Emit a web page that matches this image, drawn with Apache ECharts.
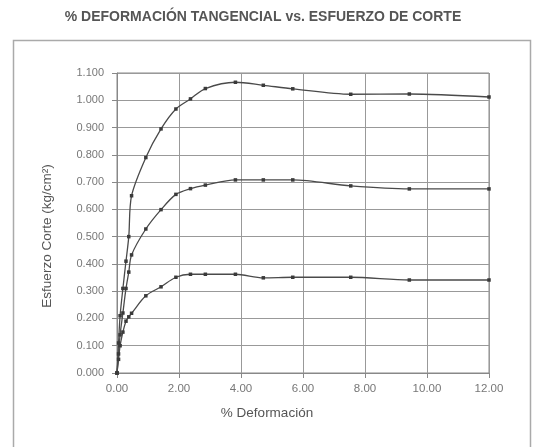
<!DOCTYPE html>
<html>
<head>
<meta charset="utf-8">
<script src="https://cdn.jsdelivr.net/npm/echarts@6/dist/echarts.min.js"></script>
<style>
  html, body { margin: 0; padding: 0; background: #fff; }
  #chart { width: 544px; height: 447px; }
</style>
</head>
<body>
<div id="chart"></div>
<script>
// Shear test: tangential strain (%) vs. shear stress (kg/cm²), three normal loads
const deformacion = [0, 0.05, 0.10, 0.19, 0.29, 0.38, 0.47, 0.93, 1.42, 1.90, 2.37, 2.85, 3.82, 4.72, 5.67, 7.54, 9.43, 12.00];
const esfuerzoAlto = [0, 0.11, 0.21, 0.31, 0.41, 0.50, 0.65, 0.790, 0.895, 0.968, 1.005, 1.043, 1.066, 1.055, 1.042, 1.022, 1.023, 1.012];
const esfuerzoMedio = [0, 0.07, 0.14, 0.22, 0.31, 0.37, 0.433, 0.528, 0.599, 0.655, 0.676, 0.689, 0.708, 0.708, 0.708, 0.686, 0.675, 0.675];
const esfuerzoBajo = [0, 0.05, 0.10, 0.15, 0.19, 0.206, 0.219, 0.283, 0.316, 0.351, 0.362, 0.362, 0.362, 0.349, 0.351, 0.351, 0.341, 0.341];
const ticksY = ['0.000','0.100','0.200','0.300','0.400','0.500','0.600','0.700','0.800','0.900','1.000','1.100'];
const ticksX = ['0.00','2.00','4.00','6.00','8.00','10.00','12.00'];

const titulo = '% DEFORMACIÓN TANGENCIAL vs. ESFUERZO DE CORTE';
const nombreX = '% Deformación';
const nombreY = 'Esfuerzo Corte (kg/cm²)';

const fuente = 'Liberation Sans, Arial, sans-serif';
const pares = ys => deformacion.map((x, i) => [x, ys[i]]);

const serie = (name, ys) => ({
  name,
  type: 'line',
  data: pares(ys),
  smooth: 0.3,
  symbol: 'rect',
  symbolSize: 3.5,
  lineStyle: { color: '#4a4a4a', width: 1.3 },
  itemStyle: { color: '#3a3a3a' }
});

const chart = echarts.init(document.getElementById('chart'), null, { renderer: 'canvas' });
chart.setOption({
  backgroundColor: '#fff',
  animation: false,
  graphic: [
    {
      type: 'rect',
      shape: { x: 13.5, y: 40.5, width: 517, height: 420 },
      style: { fill: 'none', stroke: '#aaa', lineWidth: 1.5 },
      silent: true
    },
    {
      type: 'text',
      x: 263, y: 17,
      style: { text: titulo, font: 'bold 14px ' + fuente, fill: '#555', align: 'center', verticalAlign: 'middle' },
      silent: true
    },
    {
      type: 'text',
      x: 267, y: 413,
      style: { text: nombreX, font: '13.5px ' + fuente, fill: '#555', align: 'center', verticalAlign: 'middle' },
      silent: true
    },
    {
      type: 'text',
      x: 47.5, y: 236,
      rotation: Math.PI / 2,
      style: { text: nombreY, font: '13.5px ' + fuente, fill: '#555', align: 'center', verticalAlign: 'middle' },
      silent: true
    }
  ],
  grid: { left: 117, top: 73, right: 55, bottom: 74, show: true, borderColor: '#888', borderWidth: 1 },
  xAxis: {
    type: 'value',
    min: 0, max: 12, interval: 2,
    axisLine: { show: true, lineStyle: { color: '#888' } },
    axisTick: { show: true, inside: false, length: 5, lineStyle: { color: '#888' } },
    axisLabel: { formatter: v => ticksX[Math.round(v / 2)], fontFamily: fuente, fontSize: 11.5, color: '#777', margin: 10 },
    splitLine: { show: true, lineStyle: { color: '#999', width: 1 } }
  },
  yAxis: {
    type: 'value',
    min: 0, max: 1.1, interval: 0.1,
    axisLine: { show: true, lineStyle: { color: '#888' } },
    axisTick: { show: true, inside: false, length: 5, lineStyle: { color: '#888' } },
    axisLabel: { formatter: v => ticksY[Math.round(v * 10)], fontFamily: fuente, fontSize: 11, color: '#777', margin: 13 },
    splitLine: { show: true, lineStyle: { color: '#999', width: 1 } }
  },
  series: [
    serie('Carga alta', esfuerzoAlto),
    serie('Carga media', esfuerzoMedio),
    serie('Carga baja', esfuerzoBajo)
  ]
});
</script>
</body>
</html>
